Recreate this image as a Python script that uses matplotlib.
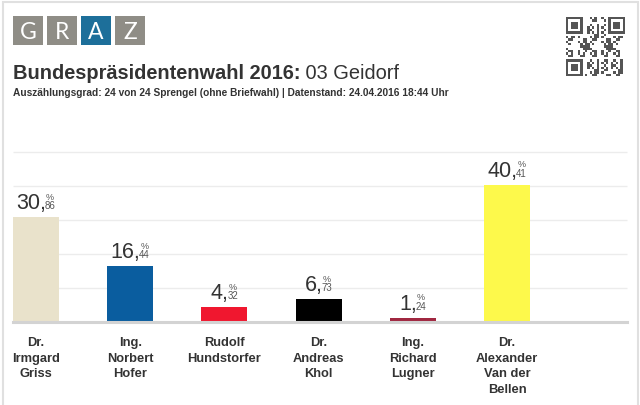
import matplotlib
matplotlib.use('Agg')
import matplotlib.pyplot as plt
import numpy as np
from matplotlib.patches import Rectangle
from matplotlib.transforms import offset_copy

plt.rcParams['font.family'] = ['Liberation Sans', 'DejaVu Sans']

# ---- data ----
candidates = ["Dr.\nIrmgard\nGriss", "Ing.\nNorbert\nHofer", "Rudolf\nHundstorfer",
              "Dr.\nAndreas\nKhol", "Ing.\nRichard\nLugner", "Dr.\nAlexander\nVan der\nBellen"]
shares = [30.86, 16.44, 4.32, 6.73, 1.24, 40.41]
colors = ['#e9e2cb', '#0a5d9f', '#f0172f', '#000000', '#a02740', '#fdf94b']
grid_levels = [10, 20, 30, 40, 50]
title_bold = "Bundespräsidentenwahl 2016:"
title_reg = " 03 Geidorf"
subtitle = "Auszählungsgrad: 24 von 24 Sprengel (ohne Briefwahl) | Datenstand: 24.04.2016 18:44 Uhr"
logo_letters = ["G", "R", "A", "Z"]

W, H = 640, 406
fig = plt.figure(figsize=(6.4, 4.06), dpi=100)
fig.patch.set_facecolor('white')

def fx(px):
    return px / W

def fy(py):
    return 1 - py / H

# border
fig.patches.append(Rectangle((fx(2.5), -0.02), fx(635.5), fy(2.5) + 0.02,
                             transform=fig.transFigure, fill=False,
                             ec='#e0e0e0', lw=1.5))

# logo
for i, L in enumerate(logo_letters):
    x0 = 13 + 34 * i
    col = '#1d6f9a' if L == 'A' else '#8f8d86'
    fig.patches.append(Rectangle((fx(x0), fy(46)), fx(30), 29 / H,
                                 transform=fig.transFigure, fc=col, ec='none'))
    fig.text(fx(x0 + 15), fy(39), L, color='white', fontsize=16.5,
             ha='center', va='baseline', family=['Lato', 'DejaVu Sans'])

# title
renderer = fig.canvas.get_renderer()
t1 = fig.text(fx(13), fy(79), title_bold, fontsize=14.4, fontweight='bold',
              color='#333333', va='baseline', ha='left')
w = t1.get_window_extent(renderer).width
fig.text(fx(13 + w), fy(79), title_reg, fontsize=14.4, color='#333333',
         va='baseline', ha='left')
fig.text(fx(13), fy(96), subtitle, fontsize=7.3, fontweight='bold',
         color='#333333', va='baseline', ha='left')

# QR-like decoration
n = 25
qr = np.zeros((n, n))
ii, jj = np.mgrid[0:n, 0:n]
qr[((ii * 7 + jj * 13 + ii * jj + (ii // 3) * (jj // 2)) % 5) < 2] = 1
def finder(r, c):
    qr[r:r+7, c:c+7] = 1
    qr[r+1:r+6, c+1:c+6] = 0
    qr[r+2:r+5, c+2:c+5] = 1
for r, c in [(0, 0), (0, n-7), (n-7, 0)]:
    qr[max(r-1,0):r+8, max(c-1,0):c+8] = 0
    finder(r, c)
qax = fig.add_axes([fx(566), fy(77), fx(59), 59 / H])
qax.imshow(qr, cmap=matplotlib.colors.ListedColormap(['white', '#555555']),
           interpolation='nearest')
qax.axis('off')

# main chart
ax = fig.add_axes([fx(13), fy(323), fx(614), 170 / H])
x = np.arange(len(shares))
ax.set_xlim(-0.244, 6.274)
ax.set_ylim(0, 50)
ax.hlines(grid_levels, -0.244, 6.274, colors='#ececec', lw=1, clip_on=False, zorder=0)
ax.bar(x, shares, width=0.49, color=colors, zorder=2)
ax.axhline(0, color='#d3d3d3', lw=2.2, zorder=3, clip_on=False)
for s in ax.spines.values():
    s.set_visible(False)
ax.set_xticks([])
ax.set_yticks([])
ax.patch.set_alpha(0)

for i, v in enumerate(shares):
    ip, dp = f"{v:.2f}".split('.')
    tm = ax.text(i, v, ip + ',', fontsize=15.5, color='#333333', ha='left', va='baseline')
    td = ax.text(i, v, dp, fontsize=7, color='#555555', ha='left', va='baseline')
    tp = ax.text(i, v, '%', fontsize=6.5, color='#555555', ha='center', va='baseline')
    w1 = tm.get_window_extent(renderer).width
    w2 = td.get_window_extent(renderer).width
    gap = -1.5
    start = -(w1 + w2 + gap) / 2
    tm.set_transform(offset_copy(ax.transData, fig=fig, x=start, y=9, units='dots'))
    td.set_transform(offset_copy(ax.transData, fig=fig, x=start + w1 + gap, y=9, units='dots'))
    tp.set_transform(offset_copy(ax.transData, fig=fig, x=start + w1 + gap + w2 / 2, y=18.5, units='dots'))

for i, name in enumerate(candidates):
    ax.text(i, 0, name, fontsize=9.3, fontweight='bold', color='#333333',
            ha='center', va='top', linespacing=1.4, clip_on=False,
            transform=offset_copy(ax.transData, fig=fig, x=0, y=-14, units='dots'))

fig.savefig('out.png', dpi=100, facecolor='white')
